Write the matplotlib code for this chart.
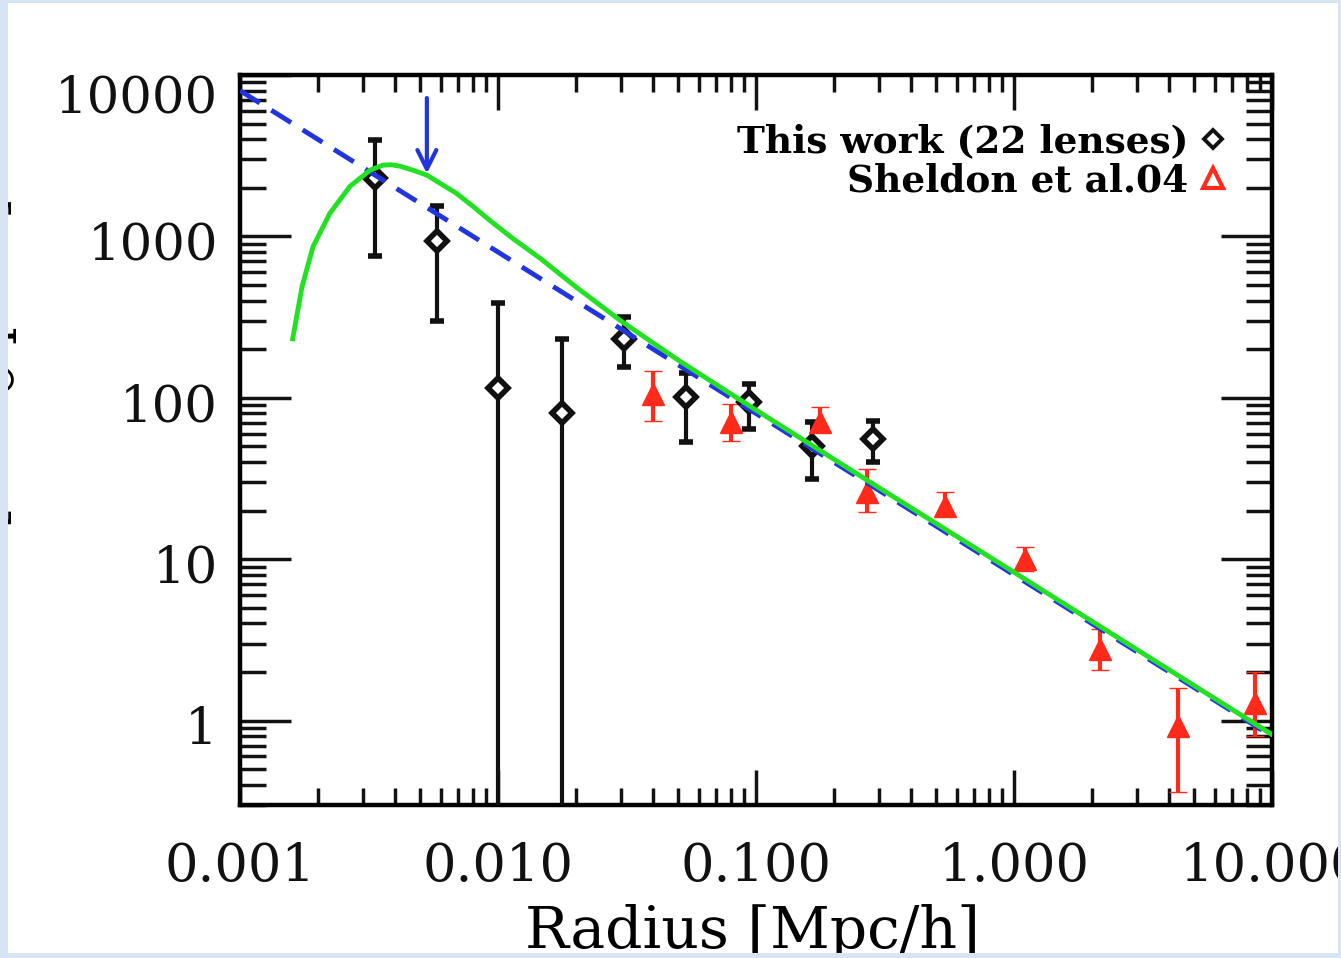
import numpy as np
import matplotlib.pyplot as plt
from matplotlib.lines import Line2D
from matplotlib.patches import Rectangle
from matplotlib.transforms import ScaledTranslation

# ---- data ----
# this work: 22 lenses (diamonds)
this_x = [0.00334, 0.0058, 0.0100, 0.0177, 0.0308, 0.0536, 0.094, 0.165, 0.284]
this_y = [2300, 931, 115, 81, 232, 101, 94.5, 50, 55.6]
this_hi = [3950, 1535, 384, 232, 318, 143, 122, 71, 72]
this_lo = [751, 301, 0.01, 0.01, 156, 53.3, 64, 31.4, 40]

# Sheldon et al. 2004 (triangles)
sheldon_x = [0.0399, 0.080, 0.177, 0.269, 0.541, 1.10, 2.15, 4.32, 8.6]
sheldon_y = [106, 71, 71, 26, 21.3, 10.0, 2.76, 0.92, 1.29]
sheldon_hi = [147, 92, 88, 36.2, 26, 11.9, 3.67, 1.6, 1.99]
sheldon_lo = [72, 54, 61, 19.6, 18.5, 8.4, 2.07, 0.36, 0.80]

# model curve (green) and power law (blue dashed)
model_x = [0.00160, 0.00174, 0.00192, 0.00223, 0.00267, 0.00319, 0.00358, 0.00385,
           0.00417, 0.00469, 0.00531, 0.00596, 0.0069, 0.0080, 0.0093, 0.0114,
           0.0146, 0.02, 0.03, 0.05, 0.1, 0.3, 1.0, 3.0, 10.0]
model_y = [232, 489, 866, 1390, 2046, 2571, 2763, 2780,
           2723, 2570, 2393, 2134, 1849, 1535, 1256, 972,
           730, 488, 299, 171, 84, 27.7, 8.3, 2.75, 0.82]
sis_x = [0.001, 10.0]
sis_y = [8000, 0.8]

# arrow marking the scale radius
arrow_x = 0.0053
arrow_top = 7200
arrow_tip = 2450

xticks = [0.001, 0.01, 0.1, 1.0, 10.0]
xtick_labels = ['0.001', '0.010', '0.100', '1.000', '10.000']
yticks = [1, 10, 100, 1000, 10000]
ytick_labels = ['1', '10', '100', '1000', '10000']

black = '#111111'
red = '#ff2a1a'
green = '#22e022'
blue = '#2035e0'
slide_blue = '#d6e4f4'

plt.rcParams['font.family'] = 'DejaVu Serif'

fig = plt.figure(figsize=(13.41, 9.58), dpi=100)
fig.patch.set_facecolor('white')
ax = fig.add_axes([0.17897, 0.15971, 0.76957, 0.76200])

ax.set_xscale('log')
ax.set_yscale('log')
ax.set_xlim(0.001, 10.0)
ax.set_ylim(0.30, 10000)

this_y_a = np.array(this_y)
ax.errorbar(this_x, this_y,
            yerr=[this_y_a - np.array(this_lo), np.array(this_hi) - this_y_a],
            fmt='D', ms=10, mfc='white', mec=black, mew=4,
            ecolor=black, elinewidth=3, capsize=5, capthick=3.2, zorder=3)

sh_y_a = np.array(sheldon_y)
ax.errorbar(sheldon_x, sheldon_y,
            yerr=[sh_y_a - np.array(sheldon_lo), np.array(sheldon_hi) - sh_y_a],
            fmt='^', ms=16, mfc=red, mec=red, mew=1,
            ecolor=red, elinewidth=3, capsize=6.5, capthick=3.5, zorder=3)

ax.plot(sis_x, sis_y, color=blue, lw=3.5, dashes=(4.8, 2.8), zorder=4)
ax.plot(model_x, model_y, color=green, lw=3.5, zorder=5)

ax.annotate('', xy=(arrow_x, arrow_tip), xytext=(arrow_x, arrow_top),
            arrowprops=dict(arrowstyle='->', color=blue, lw=3,
                            mutation_scale=34, shrinkA=0, shrinkB=0),
            zorder=6)

# axes styling: ticks inside on every side
for sp in ax.spines.values():
    sp.set_linewidth(3.2)
ax.tick_params(which='both', direction='in', top=True, right=True, width=2.5, colors=black)
ax.tick_params(axis='y', which='major', length=37, pad=16, labelsize=37)
ax.tick_params(axis='y', which='minor', length=19)
ax.tick_params(axis='x', which='major', length=25, pad=26, labelsize=38)
ax.tick_params(axis='x', which='minor', length=12)

ax.set_xticks(xticks, xtick_labels)
ax.set_yticks(yticks, ytick_labels)

# y labels sit a little below their ticks, the top one more so
for lbl, dy in zip(ax.get_yticklabels(), [4, 4, 4, 4, 18]):
    lbl.set_transform(lbl.get_transform() + ScaledTranslation(0, -dy / 100, fig.dpi_scale_trans))

ax.set_xlabel('Radius [Mpc/h]', fontsize=42)
ax.xaxis.set_label_coords(0.497, -0.136)

# y label runs off the left edge of the panel
fig.text(21 / 1341, 0.573, r'$\Delta\Sigma$ [h M$_{\odot}$ pc$^{-2}$]', rotation=90,
         fontsize=40, ha='right', va='center')

handles = [Line2D([], [], ls='none', marker='D', ms=9, mfc='white', mec=black, mew=2.8),
           Line2D([], [], ls='none', marker='^', ms=14, mfc='white', mec=red, mew=3)]
ax.legend(handles, ['This work (22 lenses)', 'Sheldon et al.04'],
          loc='upper right', bbox_to_anchor=(0.957, 0.934), frameon=False,
          markerfirst=False, handlelength=0.8, handletextpad=0.25,
          labelspacing=0.05, borderaxespad=0, borderpad=0,
          prop={'family': 'DejaVu Serif', 'weight': 'bold', 'size': 27})

# light slide border around the white panel
W, H = 1341, 958
for (x0, y0, w, h) in [(0, 0, 8, H), (0, 0, W, 5), (0, H - 3, W, 3), (W - 3, 0, 3, H)]:
    fig.add_artist(Rectangle((x0 / W, y0 / H), w / W, h / H, transform=fig.transFigure,
                             color=slide_blue, lw=0, zorder=20))

fig.savefig('out.png', dpi=100)
